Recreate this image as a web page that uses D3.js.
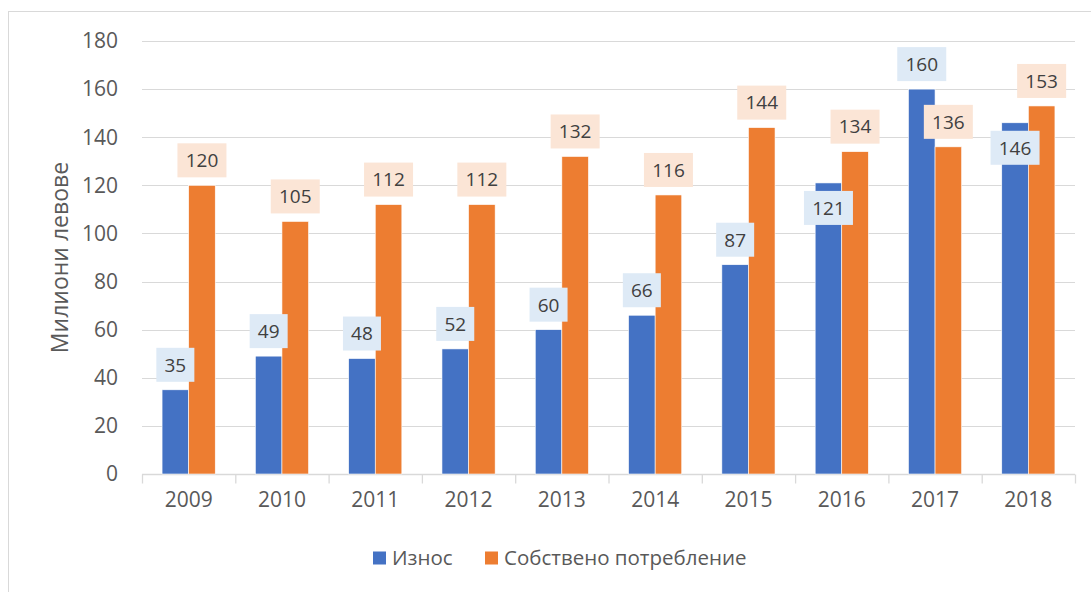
<!DOCTYPE html>
<html>
<head>
<meta charset="utf-8">
<title>Износ и собствено потребление</title>
<script src="https://cdn.jsdelivr.net/npm/d3@7"></script>
<style>
body { margin: 0; background: #fff; }
text { font-family: "Open Sans", sans-serif; fill: #595959; }
</style>
</head>
<body>
<svg id="chart"></svg>
<script>
var years = ["2009", "2010", "2011", "2012", "2013", "2014", "2015", "2016", "2017", "2018"];
var seriesNames = ["Износ", "Собствено потребление"];
var exportVals = [35, 49, 48, 52, 60, 66, 87, 121, 160, 146];
var ownVals = [120, 105, 112, 112, 132, 116, 144, 134, 136, 153];
var yTicks = [0, 20, 40, 60, 80, 100, 120, 140, 160, 180];

var colors = ["#4472C4", "#ED7D31"];
var labelFill = ["#DEEAF6", "#FBE5D6"];

var W = 1091, H = 592;
var m = { left: 142, right: 16, top: 41, bottom: 118 };

var svg = d3.select("#chart").attr("width", W).attr("height", H);

// рамка на диаграмата
svg.append("rect")
	.attr("x", 8.5).attr("y", 11.5)
	.attr("width", 1100).attr("height", 600)
	.attr("fill", "none").attr("stroke", "#d9d9d9");

var x = d3.scaleBand().domain(years).range([m.left, W - m.right]).paddingInner(0.43).paddingOuter(0.215);
var xs = d3.scaleBand().domain([0, 1]).range([0, x.bandwidth()]);
var y = d3.scaleLinear().domain([0, 180]).range([H - m.bottom, m.top]);

// мрежа
svg.append("g").selectAll("line").data(yTicks.slice(1)).join("line")
	.attr("x1", m.left).attr("x2", W - m.right)
	.attr("y1", function(d) { return Math.round(y(d)) + 0.5; })
	.attr("y2", function(d) { return Math.round(y(d)) + 0.5; })
	.attr("stroke", "#d9d9d9").attr("stroke-width", 1);

// y ос
svg.append("g").selectAll("text").data(yTicks).join("text")
	.attr("x", 118).attr("y", function(d) { return y(d); })
	.attr("dy", "0.35em").attr("text-anchor", "end")
	.style("font-size", "21px")
	.text(function(d) { return d; });

svg.append("text")
	.attr("transform", "translate(68," + ((m.top + H - m.bottom) / 2) + ") rotate(-90)")
	.attr("text-anchor", "middle")
	.style("font-size", "23px")
	.text("Милиони левове");

// x ос
var xAxis = d3.axisBottom(d3.scaleLinear().domain([0, years.length]).range([m.left, W - m.right]))
	.ticks(years.length).tickSize(9).tickFormat("");
var gx = svg.append("g").attr("transform", "translate(0," + (Math.round(y(0)) + 0.5) + ")").call(xAxis);
gx.selectAll("path, line").attr("stroke", "#d9d9d9").attr("stroke-width", 1.3);
gx.select(".domain").attr("d", "M" + m.left + ",0H" + (W - m.right));

svg.append("g").selectAll("text").data(years).join("text")
	.attr("x", function(d) { return x(d) + x.bandwidth() / 2; })
	.attr("y", y(0) + 33)
	.attr("text-anchor", "middle")
	.style("font-size", "21px")
	.text(function(d) { return d; });

// колони
var series = [exportVals, ownVals];
series.forEach(function(vals, s) {
	svg.append("g").selectAll("rect").data(vals).join("rect")
		.attr("x", function(d, i) { return x(years[i]) + xs(s); })
		.attr("width", xs.bandwidth())
		.attr("y", function(d) { return y(d); })
		.attr("height", function(d) { return y(0) - y(d); })
		.attr("fill", colors[s])
		.attr("stroke", "#fff").attr("stroke-width", 0.6);
});

// етикети с данни
var boxH = 34, off = 25;
function boxW(v) { return String(v).length > 2 ? 49 : 38; }
var labels = [];
years.forEach(function(yr, i) {
	var cx0 = x(yr) + xs(0) + xs.bandwidth() / 2;
	var cx1 = x(yr) + xs(1) + xs.bandwidth() / 2;
	var a = { s: 0, v: exportVals[i], cx: cx0, cy: y(exportVals[i]) - off };
	var b = { s: 1, v: ownVals[i], cx: cx1, cy: y(ownVals[i]) - off };
	// ако се застъпват, етикетът на износа влиза в колоната
	var overlapX = Math.abs(a.cx - b.cx) < (boxW(a.v) + boxW(b.v)) / 2;
	var overlapY = Math.abs(a.cy - b.cy) < boxH;
	if (overlapX && overlapY) a.cy = y(exportVals[i]) + off;
	labels.push(a, b);
});

var lg = svg.append("g").selectAll("g").data(labels).join("g")
	.attr("transform", function(d) { return "translate(" + d.cx + "," + d.cy + ")"; });
lg.append("rect")
	.attr("x", function(d) { return -boxW(d.v) / 2; }).attr("y", -boxH / 2)
	.attr("width", function(d) { return boxW(d.v); }).attr("height", boxH)
	.attr("fill", function(d) { return labelFill[d.s]; });
lg.append("text")
	.attr("text-anchor", "middle").attr("dy", "0.36em")
	.style("font-size", "19px").style("fill", "#404040")
	.text(function(d) { return d.v; });

// легенда
var legX = [373, 485];
var leg = svg.append("g").selectAll("g").data(seriesNames).join("g")
	.attr("transform", function(d, i) { return "translate(" + legX[i] + ",558)"; });
leg.append("rect").attr("x", 0).attr("y", -6.5).attr("width", 13).attr("height", 13)
	.attr("fill", function(d, i) { return colors[i]; });
leg.append("text").attr("x", 19).attr("dy", "0.35em")
	.style("font-size", "20.5px")
	.text(function(d) { return d; });
</script>
</body>
</html>
